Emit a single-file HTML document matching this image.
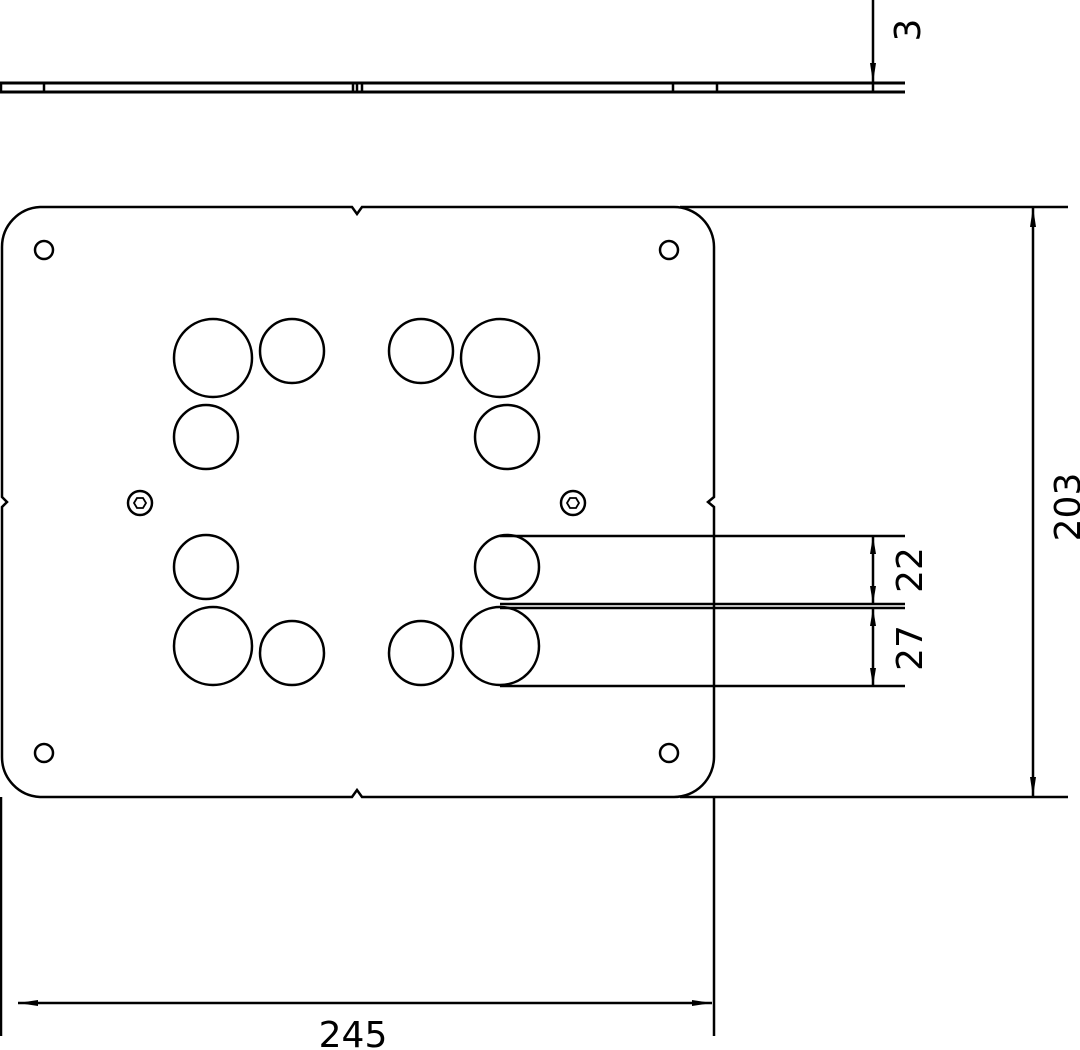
<!DOCTYPE html>
<html><head><style>html,body{margin:0;padding:0;background:#fff}svg{display:block}</style></head>
<body>
<svg width="1080" height="1050" viewBox="0 0 1080 1050" xmlns="http://www.w3.org/2000/svg">
<g fill="none" stroke="#000" stroke-width="2.5">
<!-- side view -->
<path d="M0,83 H905 M0,92 H905" stroke-width="3"/>
<path d="M1,83V92 M44,83V92 M353,83V92 M357,83V92 M362,83V92 M673,83V92 M717,83V92"/>
<path d="M873,0 V92"/>
<!-- plate -->
<path d="M40,207 H352 L357,214 L362,207 H674 A40,40 0 0 1 714,247 V497 L708,502 L714,507 V757 A40,40 0 0 1 674,797 H362 L357,790 L352,797 H40 A40,40 0 0 1 2,757 V507 L7,502 L2,497 V247 A40,40 0 0 1 40,207Z"/>
<circle cx="44" cy="250" r="9"/><circle cx="669" cy="250" r="9"/>
<circle cx="44" cy="753" r="9"/><circle cx="669" cy="753" r="9"/>
<circle cx="213" cy="358" r="39"/><circle cx="500" cy="358" r="39"/>
<circle cx="213" cy="646" r="39"/><circle cx="500" cy="646" r="39"/>
<circle cx="292" cy="351" r="32"/><circle cx="421" cy="351" r="32"/>
<circle cx="206" cy="437" r="32"/><circle cx="507" cy="437" r="32"/>
<circle cx="206" cy="567" r="32"/><circle cx="507" cy="567" r="32"/>
<circle cx="292" cy="653" r="32"/><circle cx="421" cy="653" r="32"/>
<circle cx="140" cy="503" r="12"/><circle cx="573" cy="503" r="12"/>
<path d="M134,503 L137,498 H143 L146,503 L143,508 H137Z M567,503 L570,498 H576 L579,503 L576,508 H570Z" stroke-width="1.8"/>
<!-- dim lines right -->
<path d="M500,536 H905 M500,604 H905 M500,608 H905 M500,686 H905"/>
<path d="M873,536 V604 M873,608 V686"/>
<!-- 203 -->
<path d="M680,207 H1068 M680,797 H1068 M1033,207 V797"/>
<!-- 245 -->
<path d="M714,797 V1036 M1,797 V1036 M18,1003 H712"/>
</g>
<g fill="#000">
<path d="M873,83 l-3,-20 h6z"/>
<path d="M873,536 l-3,18 h6z M873,604 l-3,-18 h6z M873,608 l-3,18 h6z M873,686 l-3,-18 h6z"/>
<path d="M1033,207 l-3,20 h6z M1033,797 l-3,-20 h6z"/>
<path d="M18,1003 l20,-3 v6z M712,1003 l-20,-3 v6z"/>
</g>
<g font-family="DejaVu Sans, sans-serif" font-size="36" fill="#000" text-anchor="middle">
<text x="353" y="1047">245</text>
<text transform="translate(1080,507) rotate(-90)">203</text>
<text transform="translate(922,570) rotate(-90)">22</text>
<text transform="translate(922,648) rotate(-90)">27</text>
<text transform="translate(920,30) rotate(-90)">3</text>
</g>
</svg>
</body></html>
